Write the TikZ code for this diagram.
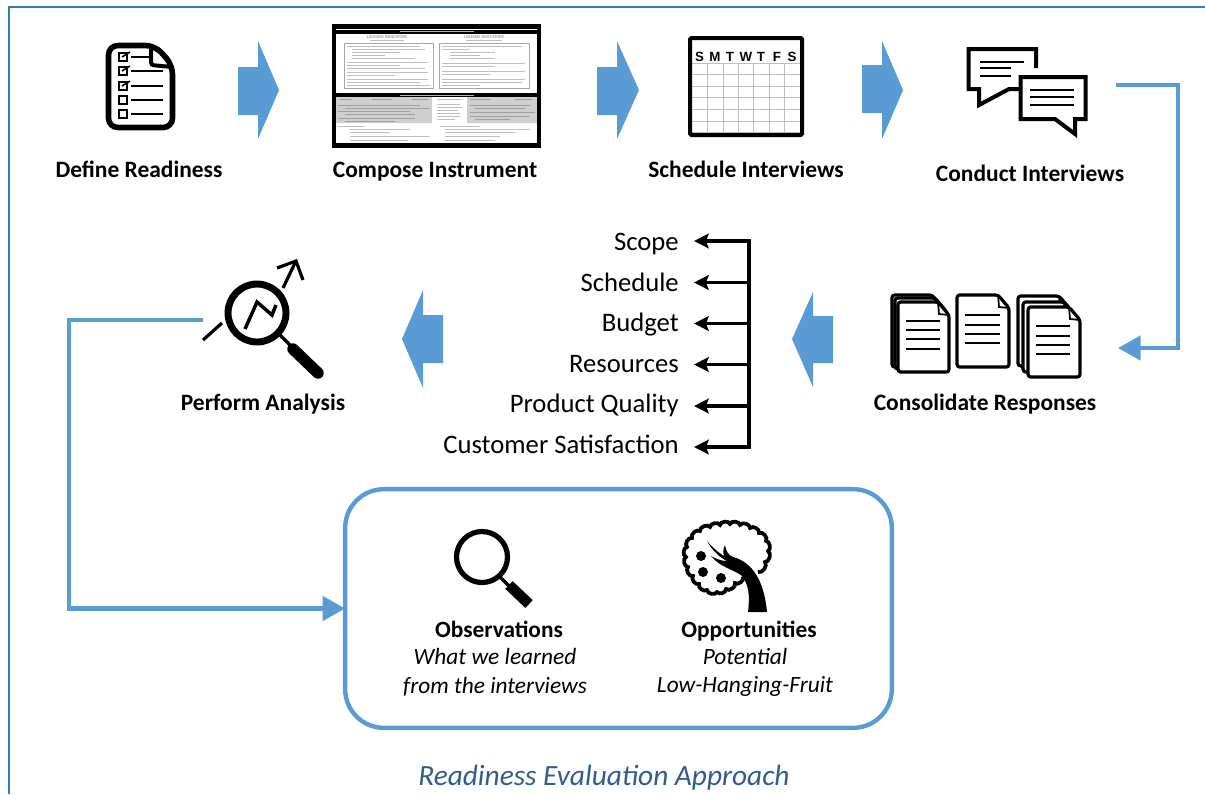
\documentclass[tikz,border=0pt]{standalone}
\usepackage{fontspec}
\setmainfont{Carlito}
\newfontfamily\dayfont{Liberation Sans}
\usetikzlibrary{arrows.meta}
\definecolor{flowblue}{HTML}{5B9BD5}
\definecolor{edgeblue}{HTML}{3579C6}
\definecolor{titleblue}{HTML}{2F5D8E}
\tikzset{
  steplabel/.style = {font = \bfseries\fontsize{17.6}{21}\selectfont, inner sep = 0pt, anchor = base},
  boxlabel/.style = {font = \bfseries\fontsize{17.5}{21}\selectfont, inner sep = 0pt, anchor = base},
  boxnote/.style = {font = \itshape\fontsize{17.5}{21}\selectfont, inner sep = 0pt, anchor = base},
  listlabel/.style = {font = \fontsize{20}{24}\selectfont, anchor = base east, inner sep = 0pt},
  dayhead/.style = {font = \dayfont\bfseries\fontsize{10}{12}\selectfont, inner sep = 0pt},
  flowline/.style = {flowblue, line width = 3.6pt},
  blockarrow/.style = {fill = flowblue},
  listarrow/.style = {line width = 2.8pt, -{Stealth[length = 11pt, width = 11pt, inset = 2pt]}},
  icon/.style = {line width = 3pt, line join = round},
  textline/.style = {line width = 1.5pt},
  smudge/.style = {gray!50, line width = 0.55pt},
  paper/.style = {draw, fill = white, line width = 2.4pt, line join = round},
  puff/.style = {bend right = 75},
}
% one sheet with a folded corner: left, top, right, bottom
\newcommand{\sheet}[4]{
  \draw[paper, rounded corners = 2pt] (#1, #2) -- (#3 - 11, #2) -- (#3, #2 + 13) -- (#3, #4) -- (#1, #4) -- cycle;
  \draw[line width = 1.3pt] (#3 - 11, #2) -- (#3 - 10, #2 + 12) -- (#3, #2 + 13);
}
\begin{document}
\begin{tikzpicture}[x = 0.75pt, y = -0.75pt]
  \useasboundingbox (0, 0) rectangle (1205, 794);
  \draw[edgeblue, line width = 1.4pt] (9, 794) -- (9, 7) -- (1205, 7);

  % top row
  \node[steplabel] (define) at (139, 177) {Define Readiness};
  \node[steplabel] (compose) at (435, 177) {Compose Instrument};
  \node[steplabel] (schedule) at (746, 177) {Schedule Interviews};
  \node[steplabel] (conduct) at (1030, 181) {Conduct Interviews};

  \fill[blockarrow] (238, 67) -- (258, 67) -- (258, 41) -- (279, 90) -- (258, 139) -- (258, 115) -- (238, 115) -- cycle;
  \fill[blockarrow] (597, 67) -- (617, 67) -- (617, 41) -- (639, 90) -- (617, 139) -- (617, 115) -- (597, 115) -- cycle;
  \fill[blockarrow] (862, 65) -- (882, 65) -- (882, 41) -- (903, 90) -- (882, 139) -- (882, 113) -- (862, 113) -- cycle;

  % checklist
  \draw[line width = 4.2pt, rounded corners = 7pt] (108.5, 45.5) -- (155, 45.5) -- (172.5, 65) -- (172.5, 127.5) -- (108.5, 127.5) -- cycle;
  \draw[line width = 3pt, rounded corners = 2pt] (151, 46) -- (151, 65) -- (172, 67);
  \draw[line width = 1.6pt] (119, 53) rectangle (127, 61) (119, 67) rectangle (127, 75) (119, 82) rectangle (127, 90)
    (119, 96) rectangle (127, 104) (119, 110) rectangle (127, 118);
  \draw[line width = 1.2pt] (122, 57) -- (130, 52) (122, 71) -- (130, 66) (122, 86) -- (130, 81);
  \draw[line width = 2.1pt] (131, 57) -- (149, 57) (131, 71) -- (163, 71) (131, 86) -- (163, 86) (131, 100) -- (163, 100) (131, 114) -- (163, 114);

  % instrument page
  \fill[gray!38] (335, 97) rectangle (432, 123) (467, 97) rectangle (537, 123);
  \draw[gray!70, line width = 0.5pt] (344, 43) rectangle (433, 88) (439, 43) rectangle (529, 88);
  \draw[line width = 3.2pt] (334, 26.5) rectangle (539, 145.5);
  \fill (335, 30) rectangle (538, 33.5);
  \fill (335, 93) rectangle (538, 97);
  \draw[gray!60, line width = 0.5pt] (400, 31.7) -- (474, 31.7) (400, 95) -- (474, 95);
  \node[font = \fontsize{3.4}{4}\selectfont, text = gray!90!black, inner sep = 0pt] (lagging) at (387, 37) {LAGGING INDICATORS};
  \node[font = \fontsize{3.4}{4}\selectfont, text = gray!90!black, inner sep = 0pt] (leading) at (484, 37) {LEADING INDICATORS};
  \draw[smudge] (370, 40.5) -- (404, 40.5) (466, 40.5) -- (502, 40.5);
  \draw[smudge] (347, 46) -- (420, 46) (352, 49) -- (425, 49) (352, 52) -- (400, 52) (352, 55) -- (385, 55) (352, 58) -- (415, 58)
    (347, 62) -- (428, 62) (347, 65) -- (400, 65) (347, 68) -- (425, 68) (347, 72) -- (428, 72) (347, 75) -- (395, 75)
    (347, 79) -- (428, 79) (347, 82) -- (420, 82) (347, 85) -- (430, 85);
  \draw[smudge] (442, 46) -- (522, 46) (442, 49) -- (470, 49) (450, 52) -- (495, 52) (450, 55) -- (480, 55) (450, 58) -- (495, 58)
    (442, 63) -- (525, 63) (442, 66) -- (495, 66) (442, 71) -- (525, 71) (442, 74) -- (490, 74)
    (442, 79) -- (525, 79) (442, 82) -- (522, 82) (442, 85) -- (480, 85);
  \draw[smudge, gray!75] (340, 99.5) -- (352, 99.5) (372, 99.5) -- (392, 99.5) (412, 99.5) -- (428, 99.5)
    (470, 99.5) -- (490, 99.5) (514, 99.5) -- (532, 99.5)
    (338, 105) -- (420, 105) (345, 108) -- (430, 108) (338, 111) -- (410, 111) (345, 114) -- (415, 114) (338, 118) -- (415, 118) (345, 121) -- (395, 121)
    (470, 105) -- (530, 105) (475, 108) -- (525, 108) (470, 112) -- (535, 112) (470, 116) -- (530, 116) (475, 119) -- (510, 119);
  \draw[smudge] (437, 99.5) -- (462, 99.5) (437, 104) -- (460, 104) (437, 107) -- (462, 107) (437, 110) -- (458, 110) (437, 113) -- (460, 113) (437, 116) -- (460, 116) (437, 119) -- (455, 119);
  \draw[smudge] (338, 126) -- (365, 126) (350, 129) -- (410, 129) (350, 132) -- (390, 132) (350, 136) -- (430, 136) (350, 140) -- (408, 140)
    (440, 126) -- (480, 126) (445, 129) -- (530, 129) (445, 132) -- (515, 132) (445, 136) -- (500, 136) (445, 140) -- (495, 140);

  % calendar
  \draw[gray!50, line width = 0.6pt] (707, 63) -- (707, 134) (723, 63) -- (723, 134) (738, 63) -- (738, 134) (753.5, 63) -- (753.5, 134)
    (769, 63) -- (769, 134) (784, 63) -- (784, 134)
    (690, 63) -- (802, 63) (690, 74) -- (802, 74) (690, 86) -- (802, 86) (690, 97) -- (802, 97) (690, 109) -- (802, 109) (690, 121) -- (802, 121) (690, 132) -- (802, 132);
  \draw[line width = 3pt, rounded corners = 1pt] (690, 38) rectangle (802, 135);
  \node[dayhead] (sun) at (699.5, 57) {S};
  \node[dayhead] (mon) at (715, 57) {M};
  \node[dayhead] (tue) at (730, 57) {T};
  \node[dayhead] (wed) at (746, 57) {W};
  \node[dayhead] (thu) at (761, 57) {T};
  \node[dayhead] (fri) at (777, 57) {F};
  \node[dayhead] (sat) at (792, 57) {S};

  % speech bubbles
  \draw[icon, miter limit = 10, line join = miter] (1036, 68) -- (1036, 49) -- (968.5, 49) -- (968.5, 89) -- (979, 89) -- (979, 105) -- (1009, 89) -- (1022, 89);
  \draw[line width = 1.5pt] (980, 62) -- (1024, 62) (980, 68) -- (1011, 68) (980, 76) -- (1011, 76);
  \draw[icon, line join = miter, fill = white] (1020.5, 77) -- (1085.5, 77) -- (1085.5, 119) -- (1075, 119) -- (1075, 134) -- (1055, 119) -- (1020.5, 119) -- cycle;
  \draw[line width = 1.5pt] (1030, 90) -- (1074, 90) (1030, 97) -- (1074, 97) (1030, 105) -- (1074, 105);

  % interviews down to responses
  \coordinate (talkout) at (1116, 85);
  \coordinate (talkturn) at (1178, 85);
  \coordinate (paperin) at (1118, 348);
  \draw[flowline, -{Triangle[length = 17pt, width = 18pt]}] (talkout) -- (talkturn) |- (paperin);

  % stacks of paper
  \sheet{892}{295}{943}{367}
  \sheet{895}{298}{946}{369}
  \sheet{898}{302}{949}{372}
  \draw[textline] (906, 321) -- (940, 321) (906, 330) -- (940, 330) (906, 339) -- (940, 339) (906, 349) -- (940, 349);
  \sheet{957}{295}{1009}{367}
  \draw[textline] (965, 315) -- (1000, 315) (965, 325) -- (1000, 325) (965, 334) -- (1000, 334) (965, 343) -- (1000, 343);
  \sheet{1018}{296}{1070}{366}
  \sheet{1023}{302}{1075}{372}
  \sheet{1028}{307}{1080}{377}
  \draw[textline] (1036, 326) -- (1070, 326) (1036, 336) -- (1070, 336) (1036, 345) -- (1070, 345) (1036, 354) -- (1070, 354);
  \node[steplabel] (consolidate) at (985, 410) {Consolidate Responses};

  \fill[blockarrow] (833, 316) -- (813, 316) -- (813, 292) -- (792, 339) -- (813, 387) -- (813, 363) -- (833, 363) -- cycle;
  \fill[blockarrow] (443, 315) -- (423, 315) -- (423, 290) -- (402, 339) -- (423, 388) -- (423, 363) -- (443, 363) -- cycle;

  % middle list
  \node[listlabel] (scope) at (679, 250) {Scope};
  \node[listlabel] (sched) at (679, 291) {Schedule};
  \node[listlabel] (budget) at (679, 331) {Budget};
  \node[listlabel] (resources) at (679, 372) {Resources};
  \node[listlabel] (quality) at (679, 412) {Product Quality};
  \node[listlabel] (customer) at (679, 453) {Customer Satisfaction};
  \coordinate (scopeend) at (694, 241);
  \coordinate (schedend) at (694, 282.5);
  \coordinate (budgetend) at (694, 323.5);
  \coordinate (resourcesend) at (694, 364.5);
  \coordinate (qualityend) at (694, 406);
  \coordinate (customerend) at (694, 447);
  \coordinate (spinetop) at (749, 241);
  \coordinate (spineb) at (749, 282.5);
  \coordinate (spinec) at (749, 323.5);
  \coordinate (spined) at (749, 364.5);
  \coordinate (spinee) at (749, 406);
  \coordinate (spinebottom) at (749, 447);
  \draw[line width = 2.8pt, line cap = rect] (spinetop) -- (spinebottom);
  \draw[listarrow] (spinetop) -- (scopeend);
  \draw[listarrow] (spineb) -- (schedend);
  \draw[listarrow] (spinec) -- (budgetend);
  \draw[listarrow] (spined) -- (resourcesend);
  \draw[listarrow] (spinee) -- (qualityend);
  \draw[listarrow] (spinebottom) -- (customerend);

  % analysis icon
  \draw[line width = 5.2pt] (257, 313) circle (29);
  \draw[line width = 2.6pt] (278, 333) -- (292, 347);
  \draw[line width = 8.6pt, line cap = round] (293, 349) -- (318, 373);
  \draw[line width = 2.6pt] (245, 329) -- (257, 302) -- (272, 315) -- (276, 305);
  \draw[line width = 2.4pt] (203, 340) -- (222, 323);
  \draw[line width = 2.4pt] (283, 288) -- (295, 263);
  \draw[line width = 2.4pt] (277, 268) -- (296, 261) -- (303, 280);
  \node[steplabel] (analysis) at (263, 410) {Perform Analysis};

  % bottom box
  \node[draw = flowblue, line width = 3.3pt, rounded corners = 29pt, minimum width = 410pt, minimum height = 179pt, outer sep = 0pt, inner sep = 0pt] (evalbox) at (618.5, 608.5) {};
  \coordinate (lensout) at (203, 320);
  \coordinate (lensturn) at (69, 320);
  \draw[flowline, -{Triangle[length = 17pt, width = 18pt]}] (lensout) -- (lensturn) |- (evalbox.west);

  \draw[line width = 3.9pt] (482, 557) circle (25.5);
  \draw[line width = 2.6pt] (499, 576) -- (511, 588);
  \draw[line width = 8pt] (509, 585) -- (529, 604);
  \node[boxlabel] (observations) at (499, 637) {Observations};
  \node[boxnote] (learned) at (495, 664) {What we learned};
  \node[boxnote] (interviews) at (495, 693) {from the interviews};

  % fruit tree
  \draw[line width = 2.8pt] (758, 572) to[puff] (765, 562) to[puff] (768, 551) to[puff] (766, 541) to[puff] (759, 533)
    to[puff] (750, 528) to[puff] (740, 525) to[puff] (730, 524) to[puff] (720, 525) to[puff] (710, 527) to[puff] (700, 531)
    to[puff] (692, 538) to[puff] (687, 547) to[puff] (686, 557) to[puff] (688, 567) to[puff] (693, 576) to[puff] (699, 584)
    to[puff] (707, 590) to[puff] (717, 592) to[puff] (726, 589) to[puff] (735, 583) to[puff] (743, 577);
  \fill (748, 612) .. controls (750, 596) and (749, 584) .. (741, 575)
    .. controls (732, 569) and (720, 567) .. (711, 556)
    .. controls (718, 560) and (723, 561) .. (727, 561)
    .. controls (719, 557) and (712, 550) .. (707, 541)
    .. controls (713, 548) and (719, 553) .. (724, 556)
    .. controls (723, 553) and (723, 549) .. (725, 545)
    .. controls (726, 551) and (728, 555) .. (733, 557)
    .. controls (752, 562) and (764, 580) .. (767, 612) -- cycle;
  \fill (701, 556) circle (5) (703, 572) circle (5) (721, 578) circle (5);
  \node[boxlabel] (opportunities) at (749, 637) {Opportunities};
  \node[boxnote] (potential) at (745, 664) {Potential};
  \node[boxnote] (fruit) at (745, 692) {Low-Hanging-Fruit};

  \node[font = \itshape\fontsize{22}{26}\selectfont, text = titleblue, inner sep = 0pt, anchor = base] (title) at (604, 785) {Readiness Evaluation Approach};
\end{tikzpicture}
\end{document}
